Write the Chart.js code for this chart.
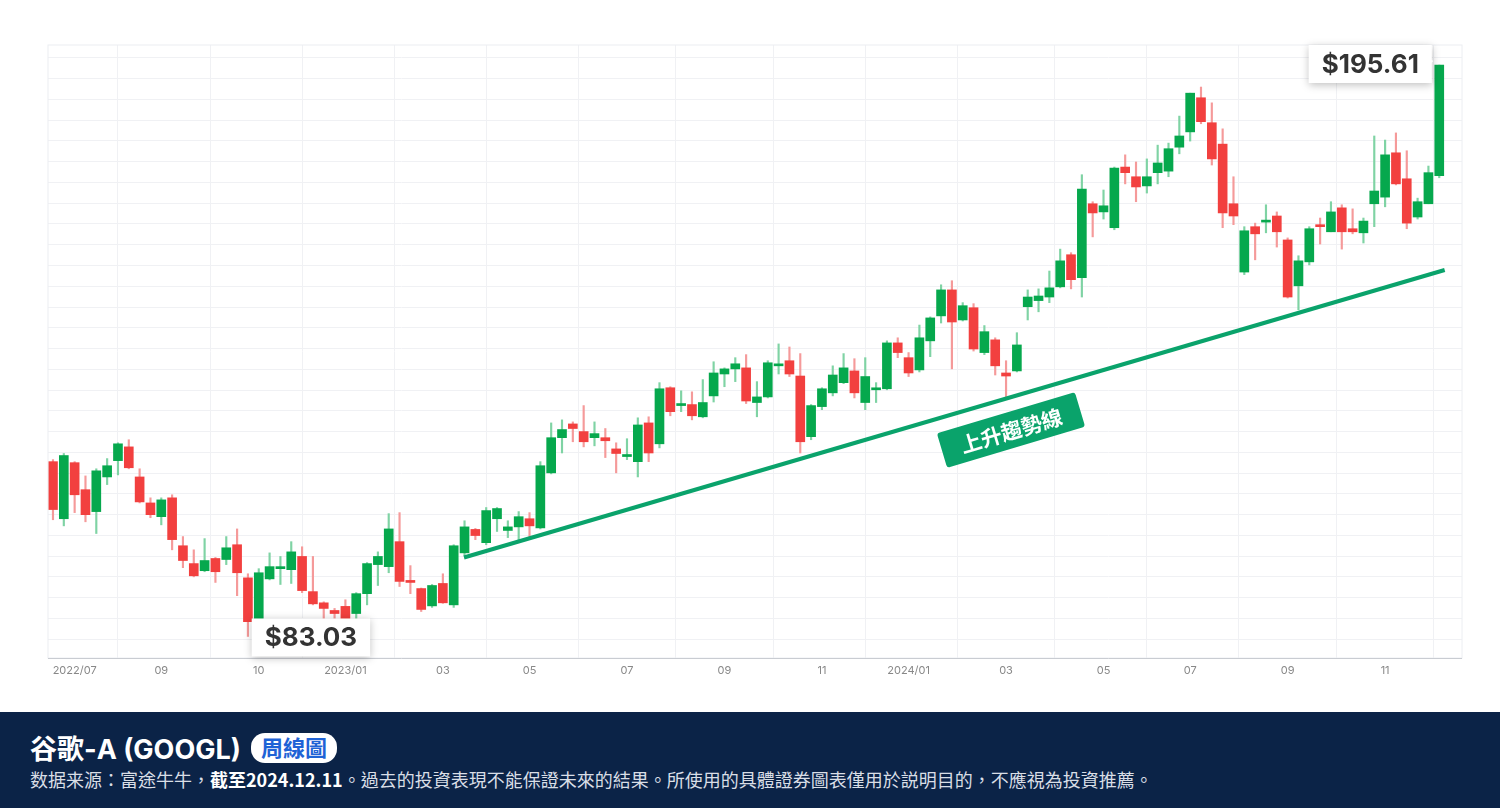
<!DOCTYPE html>
<html><head><meta charset="utf-8">
<script src="https://cdn.jsdelivr.net/npm/chart.js@4"></script>
<style>
body{margin:0;width:1500px;height:808px;overflow:hidden;background:#fff;font-family:Inter,"Noto Sans CJK TC",sans-serif}
#wrap{position:absolute;left:0;top:0;width:1500px;height:712px}
#foot{position:absolute;left:0;top:712px;width:1500px;height:96px;background:#0b2347;color:#fff}
#t{position:absolute;left:30px;top:16px;font-size:27px;font-weight:700;font-family:Inter,"Noto Sans CJK TC";display:flex;align-items:center}
#pill{margin-left:10px;background:#fff;color:#1f63d6;border-radius:14px;padding:0 10px;font-size:22px;height:30px;line-height:30px}
#s{position:absolute;left:30px;top:54px;font-size:18px;color:#d9dee6;font-family:"Noto Sans CJK TC"}
</style></head><body>
<div id="wrap"><canvas id="c" width="1500" height="712"></canvas></div>
<div id="foot"><div id="t">谷歌-A (GOOGL)<span id="pill">周線圖</span></div>
<div id="s">数据来源：富途牛牛，<b style="color:#fff">截至2024.12.11</b>。過去的投資表現不能保證未來的結果。所使用的具體證券圖表僅用於説明目的，不應視為投資推薦。</div></div>
<script>
const opens=[117.8,106.6,117.6,112.3,108.0,114.8,118.0,120.7,114.8,109.7,107.0,110.7,101.3,97.8,96.4,98.8,98.6,101.5,95.0,87.0,94.8,96.8,96.6,99.2,92.3,90.1,88.6,89.4,88.0,91.9,97.6,97.2,102.1,94.5,92.9,89.5,93.9,89.7,99.9,104.5,101.9,106.6,104.3,105.0,106.6,104.8,115.6,122.5,125.2,123.7,122.5,122.5,120.3,118.8,117.8,125.4,121.3,132.3,128.8,129.0,126.6,130.7,135.0,136.0,136.2,129.4,130.5,136.6,137.6,134.6,122.7,128.6,131.3,133.3,135.6,129.4,131.9,132.1,141.1,138.2,135.8,141.5,146.4,151.5,145.6,148.0,139.2,141.7,135.2,135.6,148.2,149.4,150.1,152.1,158.4,153.9,168.4,166.8,163.7,175.6,173.7,171.9,174.5,174.8,179.5,182.5,189.2,184.3,180.1,168.4,155.0,163.9,164.8,166.0,161.3,152.3,157.0,164.1,162.9,167.6,163.5,162.7,168.4,169.7,178.4,173.3,165.8,168.4,173.9];
const highs=[118.2,119.4,117.8,115.0,116.4,118.4,121.5,122.1,116.4,110.7,110.7,111.3,103.1,100.5,102.7,99.0,103.1,104.6,95.8,96.8,99.9,99.2,102.1,101.1,99.2,90.3,89.0,90.7,92.1,98.0,100.1,107.6,107.8,97.4,93.0,93.7,95.8,101.5,106.2,104.7,108.8,108.8,106.2,108.0,107.8,117.8,125.4,126.0,125.6,128.8,125.6,124.3,121.5,122.3,126.4,126.6,133.3,132.5,131.7,131.5,133.9,137.4,136.2,138.2,138.8,133.5,137.6,140.9,140.3,139.0,129.0,132.3,136.6,139.0,138.0,138.2,133.3,141.5,142.1,139.2,144.6,146.2,152.5,153.3,149.0,148.8,144.5,142.1,137.6,143.1,151.5,151.7,155.2,159.5,158.8,174.1,168.8,171.1,175.6,178.0,176.6,177.2,179.9,180.3,185.6,190.1,191.3,188.2,183.1,173.7,163.9,164.6,168.2,166.8,161.7,158.2,163.9,165.6,168.8,168.2,167.4,165.6,181.7,180.9,182.3,178.8,169.5,175.8,195.61];
const lows=[106.4,105.2,107.8,106.0,103.7,113.3,115.2,116.4,109.7,106.8,105.4,100.5,97.0,95.2,96.2,94.1,97.6,91.5,83.5,86.6,94.6,93.7,93.9,92.1,89.7,86.8,86.8,86.8,86.8,89.7,93.5,96.0,93.3,91.9,88.4,89.2,90.0,89.2,99.4,102.5,101.5,104.1,102.9,102.5,103.1,104.6,115.4,119.5,121.7,120.7,120.9,118.6,115.6,118.2,114.8,117.8,120.5,126.8,127.6,126.0,126.4,129.5,132.5,133.5,129.2,126.6,130.3,135.0,134.5,119.5,122.1,128.0,130.7,133.1,130.3,128.0,129.4,131.9,138.2,134.5,135.4,138.4,145.0,136.0,145.4,139.5,138.8,134.8,130.5,135.4,145.6,147.2,149.0,151.9,151.7,150.1,161.9,165.4,163.3,172.3,168.8,170.5,172.3,173.7,178.2,180.7,184.1,176.0,163.7,164.3,154.5,157.4,162.7,159.9,149.9,147.6,156.4,160.5,162.9,159.5,162.5,160.7,163.9,167.8,172.1,163.5,165.4,168.4,173.5];
const closes=[108.4,119.0,111.3,107.4,116.0,117.0,121.3,116.6,109.9,107.4,110.3,102.5,98.4,95.4,98.4,96.2,100.9,96.0,86.4,96.0,97.2,97.2,100.1,92.5,89.9,89.0,88.0,87.0,91.9,97.8,99.2,104.6,94.3,94.1,88.8,93.5,90.1,101.3,105.0,103.3,108.2,108.6,105.0,107.0,105.2,117.0,122.5,124.1,124.3,121.7,123.3,121.9,119.4,119.2,125.0,119.5,132.1,127.6,129.2,126.8,129.4,135.2,136.0,137.0,129.7,130.5,137.2,136.8,135.0,121.7,128.8,132.1,134.8,136.2,131.3,134.5,132.1,141.1,139.2,135.2,142.1,146.0,151.5,145.2,148.4,139.9,143.3,136.6,134.6,140.7,150.1,150.3,151.9,157.2,153.5,171.3,166.6,168.0,175.4,174.5,171.7,173.7,176.4,179.2,181.7,190.1,184.5,177.2,166.6,166.0,163.1,162.5,165.0,162.9,150.1,157.2,163.5,163.9,166.8,162.9,162.9,165.0,170.9,178.0,172.3,164.6,168.8,174.5,195.61];
const xTicks=[[2,'2022/07'],[10,'09'],[19,'10'],[27,'2023/01'],[36,'03'],[44,'05'],[53,'07'],[62,'09'],[71,'11'],[79,'2024/01'],[88,'03'],[97,'05'],[105,'07'],[114,'09'],[123,'11']];
const yLabels=['$83','$103','$127','$149','$173','$197'];
const trend=[[37.95,99.0],[128.5,155.4]];

const G='#06a84d',R='#f2403f',GW='#7fd3a4',RW='#f59a9a';
const body=opens.map((o,i)=>({x:i,y:[o,closes[i]]}));
const wick=opens.map((o,i)=>({x:i,y:[Math.min(lows[i],o,closes[i]),Math.max(highs[i],o,closes[i])]}));
const col=opens.map((o,i)=>closes[i]>=o?G:R);
const wcol=opens.map((o,i)=>closes[i]>=o?GW:RW);
const yMin=83-19/5.1,yMax=197+13/5.1;

const deco={id:'deco',afterDatasetsDraw(ch){
 const c=ch.ctx,xs=ch.scales.x,ys=ch.scales.y,a=ch.chartArea;
 c.save();c.strokeStyle='#eceef2';c.lineWidth=1;c.strokeRect(a.left,a.top,a.right-a.left,a.bottom-a.top);
 // axis line
 c.strokeStyle='#c9ccd2';c.beginPath();c.moveTo(a.left,a.bottom+0.5);c.lineTo(a.right,a.bottom+0.5);c.stroke();
 function box(txt,cx,cy,tail){
  c.font='bold 26px Inter';const w=c.measureText(txt).width+26,h=38;
  c.save();c.shadowColor='rgba(0,0,0,0.25)';c.shadowBlur=8;c.shadowOffsetY=2;c.fillStyle='#fff';
  c.beginPath();c.rect(cx-w/2,cy-h/2,w,h);c.fill();c.restore();
  c.fillStyle='#fff';c.beginPath();c.moveTo(tail[0][0],tail[0][1]);c.lineTo(tail[1][0],tail[1][1]);c.lineTo(tail[2][0],tail[2][1]);c.fill();
  c.fillStyle='#333';c.textAlign='center';c.textBaseline='middle';c.fillText(txt,cx,cy+1);
 }
 const p1x=xs.getPixelForValue(18),p1y=ys.getPixelForValue(83.5);
 box('$83.03',p1x+63,p1y+1,[[p1x+5,p1y+5],[p1x+20,p1y-12],[p1x+20,p1y+14]]);
 const p2x=xs.getPixelForValue(128),p2y=ys.getPixelForValue(195.61);
 box('$195.61',p2x-69,p2y-1,[[p2x-6,p2y-4],[p2x-22,p2y-14],[p2x-22,p2y+12]]);
 // trend label
 c.save();c.translate(1011,430);c.rotate(-0.29);c.fillStyle='#0aa36b';
 c.beginPath();c.roundRect(-72,-18,144,36,3);c.fill();
 c.fillStyle='#fff';c.font='bold 21px "Noto Sans CJK TC"';c.textAlign='center';c.textBaseline='middle';c.fillText('上升趨勢線',0,1);c.restore();
 c.restore();
}};

new Chart(document.getElementById('c'),{
 data:{datasets:[
  {type:'line',data:trend.map(p=>({x:p[0],y:p[1]})),borderColor:'#0aa36b',borderWidth:4,pointRadius:0,order:0},
  {type:'bar',data:wick,backgroundColor:wcol,barThickness:1.5,grouped:false,order:3},
  {type:'bar',data:body,backgroundColor:col,barThickness:9,grouped:false,order:2,minBarLength:2}
 ]},
 options:{responsive:false,animation:false,devicePixelRatio:1,
  layout:{padding:{top:45,right:38,left:0,bottom:0}},
  plugins:{legend:{display:false},tooltip:{enabled:false}},
  scales:{
   x:{type:'linear',min:-0.46,max:130.1,offset:false,
    afterBuildTicks(s){s.ticks=xTicks.map(t=>({value:t[0]}));},
    afterFit(s){s.height=54;},
    ticks:{autoSkip:false,maxRotation:0,color:'#888',font:{size:11,family:'Inter'},padding:6,
      callback(v){const t=xTicks.find(t=>t[0]===v);return t?t[1]:'';}},
    grid:{color:'#f0f1f4',drawTicks:false},border:{display:false}},
   y:{type:'linear',min:yMin,max:yMax,position:'left',
    afterBuildTicks(s){const a=[];for(let k=-1;k<=29;k++){const v=83+k*114/28;if(v>=yMin&&v<=yMax)a.push({value:v});}s.ticks=a;},
    afterFit(s){s.width=48;},
    ticks:{display:false},grid:{color:'#f0f1f4',drawTicks:false},border:{display:false}},
   yl:{type:'linear',min:yMin,max:yMax,position:'left',display:true,
    afterBuildTicks(s){s.ticks=yLabels.map((l,k)=>({value:83+k*22.8}));},
    afterFit(s){s.width=0;},
    ticks:{color:'#888',font:{size:10,family:'Inter'},mirror:false,padding:6,
      callback(v,i){return yLabels[i];}},
    grid:{display:false},border:{display:false}}
  }},
 plugins:[deco]
});
</script></body></html>
